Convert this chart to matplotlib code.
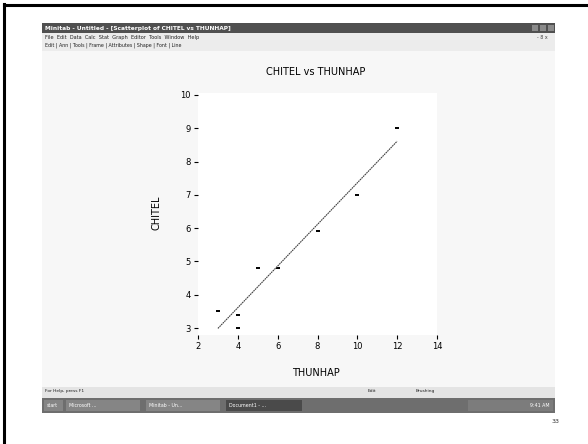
import matplotlib.pyplot as plt
import numpy as np
from matplotlib.patches import Rectangle

# Income vs. spending sample
thunhap = [3, 4, 4, 5, 6, 8, 10, 12]
chitel = [3.5, 3.4, 3.0, 4.8, 4.8, 5.9, 7.0, 9.0]

x_ticks = [2, 4, 6, 8, 10, 12, 14]
y_ticks = [3, 4, 5, 6, 7, 8, 9, 10]

W, H = 588, 444
fig = plt.figure(figsize=(W / 100, H / 100), dpi=100)
fig.patch.set_facecolor('white')

# Background layer in pixel coordinates for the slide and the app window
bg = fig.add_axes([0, 0, 1, 1])
bg.set_xlim(0, W)
bg.set_ylim(H, 0)
bg.axis('off')

def box(x, y, w, h, color, **kw):
    bg.add_patch(Rectangle((x, y), w, h, facecolor=color, edgecolor='none', **kw))

# slide frame (left and top edges)
bg.plot([4, 4], [4, H], color='black', lw=2.2)
bg.plot([4, W], [5, 5], color='black', lw=2.2)

# window body
box(42, 23, 513, 390, '#f7f7f7')
# title bar
box(42, 23, 513, 10, '#505050')
bg.text(45, 28.5, 'Minitab - Untitled - [Scatterplot of CHITEL vs THUNHAP]',
        color='white', fontsize=4.2, va='center', ha='left', fontweight='bold')
for i, cx in enumerate([535, 543, 551]):
    box(cx - 3, 25, 6, 6, '#8a8a8a')
# menu + toolbar rows
box(42, 33, 513, 18, '#ececec')
bg.text(45, 37.5, 'File  Edit  Data  Calc  Stat  Graph  Editor  Tools  Window  Help',
        fontsize=3.6, va='center', ha='left', color='#202020')
bg.text(45, 45, 'Edit | Ann | Tools | Frame | Attributes | Shape | Font | Line',
        fontsize=3.4, va='center', ha='left', color='#202020')
bg.text(548, 37.5, '- 8 x', fontsize=3.4, va='center', ha='right', color='#404040')

# status bar
box(42, 387, 513, 11, '#e4e4e4')
bg.text(45, 391, 'For Help, press F1', fontsize=3.2, va='center', ha='left', color='#202020')
bg.text(372, 391, 'Edit', fontsize=3.2, va='center', ha='center', color='#202020')
bg.text(425, 391, 'Brushing', fontsize=3.2, va='center', ha='center', color='#202020')
# taskbar
box(42, 398, 513, 15, '#6e6e6e')
buttons = [(44, 19, 'start'), (66, 74, 'Microsoft ...'), (146, 74, 'Minitab - Un...'),
           (226, 76, 'Document1 - ...')]
for i, (bx, bw, lbl) in enumerate(buttons):
    box(bx, 400, bw, 11, '#4a4a4a' if i == 3 else '#858585')
    bg.text(bx + 3, 405.5, lbl, fontsize=3.4, va='center', ha='left', color='white')
box(468, 400, 85, 11, '#7c7c7c')
bg.text(550, 405.5, '9:41 AM', fontsize=3.4, va='center', ha='right', color='white')

# slide number
bg.text(556, 421, '33', fontsize=4.5, va='center', ha='center', color='#303030')

# chart titles
bg.text(316, 72, 'CHITEL vs THUNHAP', fontsize=7, ha='center', va='center', color='black')
bg.text(316, 373, 'THUNHAP', fontsize=7, ha='center', va='center', color='black')
bg.text(157, 213, 'CHITEL', fontsize=7, ha='center', va='center', rotation=90, color='black')

# scatter plot axes
left, right, top, bottom = 198, 437, 93, 335
ax = fig.add_axes([left / W, (H - bottom) / H, (right - left) / W, (bottom - top) / H])
ax.set_facecolor('white')
ax.set_xlim(2, 14)
ax.set_ylim(2.79, 10.06)
for s in ax.spines.values():
    s.set_visible(False)

ax.plot(thunhap, chitel, linestyle='none', marker='_', markersize=3.5,
        markeredgewidth=1.4, color='black')

# least squares fit line over the data range
k, b = np.polyfit(thunhap, chitel, 1)
xs = np.array([min(thunhap), max(thunhap)])
ax.plot(xs, k * xs + b, color='#404040', lw=0.8, linestyle=(0, (1.5, 0.6)))

ax.set_xticks(x_ticks)
ax.set_yticks(y_ticks)
ax.tick_params(axis='both', length=3, width=0.8, labelsize=6, pad=2, color='black')

fig.savefig('out.png', dpi=100)
